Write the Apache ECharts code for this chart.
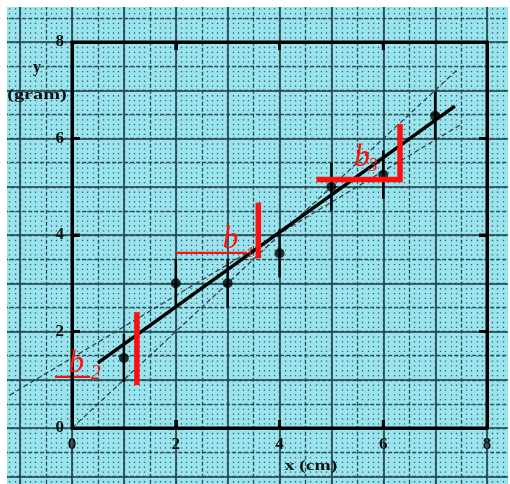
<!DOCTYPE html>
<html><head><meta charset="utf-8">
<script src="https://cdn.jsdelivr.net/npm/echarts@6/dist/echarts.min.js"></script>
<style>html,body{margin:0;padding:0;background:#fff}#c{width:510px;height:484px}</style>
</head><body><div id="c"></div>
<script>
// ---- data ----
const xValues = [1, 2, 3, 4, 5, 6, 7];
const yValues = [1.45, 3.0, 3.0, 3.62, 5.0, 5.25, 6.47];
const yErrors = [0.5, 0.5, 0.5, 0.5, 0.5, 0.5, 0.5];
const fitLine = [[0.5, 1.35], [7.38, 6.67]];
const steepLine = [[0, 0], [7.45, 7.45]];
const shallowLine = [[-1.2, 0.68], [7.48, 6.28]];
const tickValues = [0, 2, 4, 6, 8];
// red annotations (data coordinates)
const b2Under = [[-0.33, 1.06], [0.35, 1.06]];
const b2Bar = [[1.25, 2.40], [1.25, 0.89]];
const b1Under = [[2.0, 3.63], [3.37, 3.63]];
const b1Bar = [[3.59, 4.67], [3.59, 3.52]];
const b3Corner = [[4.71, 5.15], [6.32, 5.15], [6.32, 6.30]];
const bLetters = [[0.083, 1.34, 'b'], [3.054, 3.896, 'b'], [5.588, 5.606, 'b']];
const bSubs = [[0.459, 1.125, '2'], [3.43, 3.63, '1'], [5.80, 5.42, '3']];

const subSize = { '1': 15, '2': 20, '3': 19 };
const serif = '"Liberation Serif", "DejaVu Serif", serif';
const gridSolid = '#1f3d43';
const gridDash = '#2c4c52';
const gridDot = '#3d6168';
const red = '#ff1010';
const axMin = tickValues[0], axMax = tickValues[tickValues.length - 1];

const chart = echarts.init(document.getElementById('c'), null, { renderer: 'canvas' });

const mainAxis = (pos, showLabel) => ({
  type: 'value', gridIndex: 0, min: axMin, max: axMax, interval: 2, position: pos,
  z: 10,
  axisLine: { show: true, onZero: false, lineStyle: { color: '#000', width: 3 } },
  axisTick: { show: true, inside: true, length: 8, lineStyle: { color: '#000', width: 3 } },
  axisLabel: { show: showLabel, margin: 8, color: '#111', fontFamily: serif, fontWeight: 'bold', fontSize: 17 },
  splitLine: { show: false }
});
const bgAxis = (pos, interval, style, minor) => ({
  type: 'value', gridIndex: 1, min: -2, max: 9, interval: interval, position: pos, z: 1,
  axisLine: { show: false }, axisTick: { show: false }, axisLabel: { show: false },
  splitLine: { show: true, lineStyle: style },
  minorTick: { show: false, splitNumber: 5 },
  minorSplitLine: minor ? { show: true, lineStyle: minor } : { show: false }
});

const lineSeries = (data, color, width, type, xi, yi, z) => ({
  type: 'line', data: data, xAxisIndex: xi, yAxisIndex: yi, symbol: 'none', silent: true,
  clip: false, z: z, lineStyle: { color: color, width: width, type: type, cap: 'butt', join: 'miter' }, animation: false
});

const option = {
  animation: false,
  grid: [
    { left: 72, right: 23, top: 42, bottom: 56, containLabel: false, outerBoundsMode: 'none' },
    { left: -31.8, right: -29.1, top: -6.25, bottom: -40.5, containLabel: false, outerBoundsMode: 'none', show: false }
  ],
  xAxis: [
    mainAxis('bottom', true),
    mainAxis('top', false),
    bgAxis('bottom', 1, { color: gridSolid, width: 1.6, type: 'solid' }, null),
    bgAxis('top', 0.5, { color: gridDash, width: 1.3, type: [4, 2] },
      { color: gridDot, width: 1.3, type: [1.3, 3.525] })
  ],
  yAxis: [
    mainAxis('left', true),
    mainAxis('right', false),
    bgAxis('left', 1, { color: gridSolid, width: 1.6, type: 'solid' }, null),
    bgAxis('right', 0.5, { color: gridDash, width: 1.3, type: [4, 2] }, null)
  ],
  series: [
    { type: 'scatter', xAxisIndex: 3, yAxisIndex: 3, data: [], silent: true },
    lineSeries(shallowLine, '#2b3b40', 1.2, [5, 3], 2, 2, 12),
    lineSeries(steepLine, '#2b3b40', 1.2, [5, 3], 0, 0, 12),
    {
      // frame (box) and inward ticks, placed through the axes' scales
      type: 'custom', xAxisIndex: 0, yAxisIndex: 0, silent: true, z: 20, clip: false,
      data: [[axMin, axMin, axMax, axMax]],
      renderItem: function (params, api) {
        const p0 = api.coord([api.value(0), api.value(1)]);
        const p1 = api.coord([api.value(2), api.value(3)]);
        const L = p0[0], B = p0[1], R = p1[0], T = p1[1];
        const st = { stroke: '#000', lineWidth: 3, fill: null };
        const kids = [{ type: 'rect', shape: { x: L, y: T, width: R - L, height: B - T }, style: st }];
        tickValues.slice(1, -1).forEach(v => {
          const px = api.coord([v, axMin])[0];
          const py = api.coord([axMin, v])[1];
          kids.push({ type: 'line', shape: { x1: px, y1: B, x2: px, y2: B - 8 }, style: st });
          kids.push({ type: 'line', shape: { x1: px, y1: T, x2: px, y2: T + 8 }, style: st });
          kids.push({ type: 'line', shape: { x1: L, y1: py, x2: L + 8, y2: py }, style: st });
          kids.push({ type: 'line', shape: { x1: R, y1: py, x2: R - 8, y2: py }, style: st });
        });
        return { type: 'group', children: kids };
      }
    },
    {
      type: 'custom', xAxisIndex: 0, yAxisIndex: 0, silent: true, z: 13,
      data: xValues.map((x, i) => [x, yValues[i] - yErrors[i], yValues[i] + yErrors[i]]),
      renderItem: function (params, api) {
        const lo = api.coord([api.value(0), api.value(1)]);
        const hi = api.coord([api.value(0), api.value(2)]);
        return { type: 'line', shape: { x1: lo[0], y1: lo[1], x2: hi[0], y2: hi[1] },
          style: { stroke: '#000', lineWidth: 2.4 } };
      }
    },
    lineSeries(fitLine, '#000', 3.5, 'solid', 0, 0, 14),
    {
      type: 'scatter', xAxisIndex: 0, yAxisIndex: 0, silent: true, z: 15,
      data: xValues.map((x, i) => [x, yValues[i]]),
      symbol: 'circle', symbolSize: 10, itemStyle: { color: '#000' }
    },
    lineSeries(b2Under, red, 2.2, 'solid', 2, 2, 16),
    lineSeries(b2Bar, red, 5.5, 'solid', 2, 2, 16),
    lineSeries(b1Under, red, 2.2, 'solid', 2, 2, 16),
    lineSeries(b1Bar, red, 5.5, 'solid', 2, 2, 16),
    lineSeries(b3Corner, red, 5.5, 'solid', 2, 2, 16)
  ],
  graphic: [
    { type: 'rect', z: -100, silent: true, shape: { x: 7, y: 7, width: 501, height: 477 }, style: { fill: '#99e4ee' } },
    { type: 'text', z: 101, x: 37, y: 68,
      style: { text: 'y', font: 'bold 16px ' + serif, fill: '#111', align: 'center', verticalAlign: 'middle', textAlign: 'center', textVerticalAlign: 'middle' } },
    { type: 'text', z: 101, x: 37, y: 95, scaleX: 1.35,
      style: { text: '(gram)', font: 'bold 15px ' + serif, fill: '#111', align: 'center', verticalAlign: 'middle', textAlign: 'center', textVerticalAlign: 'middle' } },
    { type: 'text', z: 101, x: 311, y: 466, scaleX: 1.3,
      style: { text: 'x (cm)', font: 'bold 15px ' + serif, fill: '#111', align: 'center', verticalAlign: 'middle', textAlign: 'center', textVerticalAlign: 'middle' } }
  ]
};
chart.setOption(option);

// annotation texts placed through the library's own coordinate conversion
const extra = [];
const toPx = (x, y) => chart.convertToPixel({ gridIndex: 0 }, [x, y]);
bLetters.forEach(d => {
  const p = toPx(d[0], d[1]);
  extra.push({ type: 'text', z: 110, x: p[0], y: p[1], silent: true,
    style: { text: d[2], font: 'italic 31px ' + serif, fill: red, align: 'center', verticalAlign: 'middle', textAlign: 'center', textVerticalAlign: 'middle' } });
});
bSubs.forEach(d => {
  const p = toPx(d[0], d[1]);
  extra.push({ type: 'text', z: 110, x: p[0], y: p[1], silent: true,
    style: { text: d[2], font: 'italic ' + subSize[d[2]] + 'px ' + serif, fill: red, align: 'center', verticalAlign: 'middle', textAlign: 'center', textVerticalAlign: 'middle' } });
});
extra.push({ type: 'rect', z: 100, silent: true, shape: { x: 0, y: 0, width: 7, height: 484 }, style: { fill: '#fff' } });
extra.push({ type: 'rect', z: 100, silent: true, shape: { x: 0, y: 0, width: 510, height: 7 }, style: { fill: '#fff' } });
extra.push({ type: 'rect', z: 100, silent: true, shape: { x: 508, y: 0, width: 2, height: 484 }, style: { fill: '#fff' } });
chart.setOption({ graphic: option.graphic.concat(extra) });
</script>
</body></html>
